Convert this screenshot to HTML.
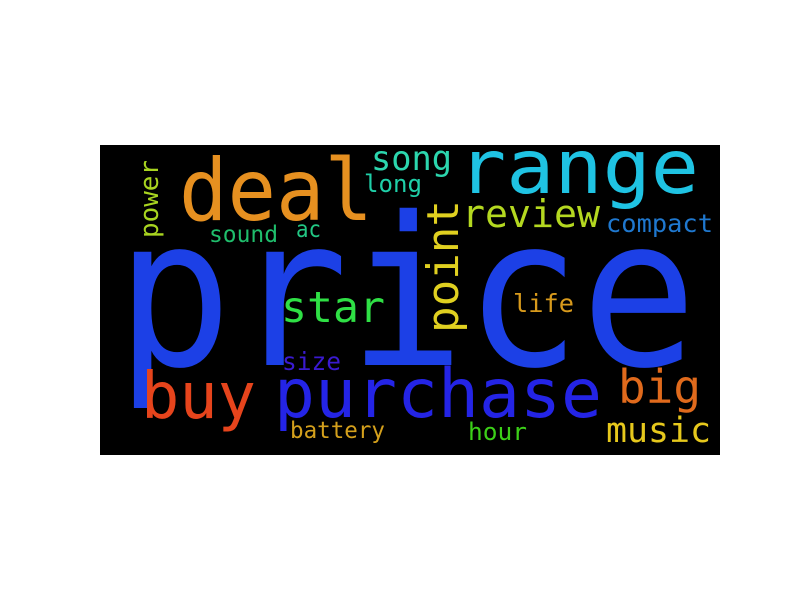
<!DOCTYPE html>
<html><head><meta charset="utf-8"><style>
html,body{margin:0;padding:0;background:#fff;width:800px;height:600px;overflow:hidden}
svg{display:block}
text{font-family:"DejaVu Sans Mono","Liberation Mono",monospace}
</style></head><body>
<svg id="chart" width="800" height="600" viewBox="0 0 800 600" xmlns="http://www.w3.org/2000/svg">
<rect x="100" y="145" width="620" height="310" fill="#000"/>
<g id="words"></g>
</svg>
<script>
const words=["price","range","deal","song","long","review","compact","power","sound","ac","point","star","life","size","buy","purchase","big","music","battery","hour"];
const sizes=[207,75,86,34,24,38,25,26,23,23,44,43,25,25,64,68,46,35,23,24];
const colors=["#1c40e6","#1fc3e3","#e69020","#2cd6ae","#1fcfa8","#b4d820","#1f78cf","#a8d420","#1fbe6c","#22c884","#e0d020","#2fe045","#d89a1c","#3a1ad0","#e6441c","#2424e6","#e06a1c","#e6c81c","#d4a01c","#3cd018"];
const rotated=[0,0,0,0,0,0,0,1,0,0,1,0,0,0,0,0,0,0,0,0];
const boxX=[116,458,179,371,364,462,606,158,209,296,458,281,513,282,141,274,618,606,290,468];
const boxY=[365,193,220,170,192,227,232,238,242,237,333,322,312,370,418,417,403,442,438,440];
const lens=[581,241,194,81,58,138,107,78,69,25,133,104,61,59,115,328,83,105,95,59];
const g=document.getElementById('words');
for(let i=0;i<words.length;i++){
  const t=document.createElementNS('http://www.w3.org/2000/svg','text');
  
  
  t.setAttribute('font-size',sizes[i]);
  t.setAttribute('fill',colors[i]);
  t.setAttribute('textLength',lens[i]);
  t.setAttribute('lengthAdjust','spacingAndGlyphs');
  if(rotated[i]){
    t.setAttribute('x',0);t.setAttribute('y',0);
    t.setAttribute('transform','translate('+boxX[i]+','+boxY[i]+') rotate(-90)');
  }else{
    t.setAttribute('x',boxX[i]);t.setAttribute('y',boxY[i]);
  }
  t.textContent=words[i];
  g.appendChild(t);
}
</script>
</body></html>
